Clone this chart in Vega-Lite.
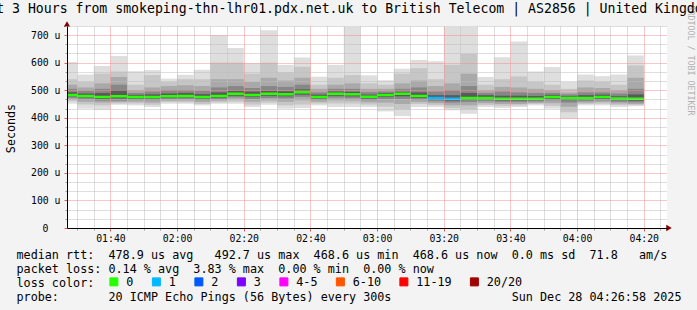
{
  "$schema": "https://vega.github.io/schema/vega-lite/v6.json",
  "width": 600,
  "height": 202,
  "autosize": {"type": "none"},
  "padding": {"left": 67, "top": 26, "right": 30, "bottom": 82},
  "background": "#f3f3f3",
  "config": {"view": {"fill": "#ffffff", "stroke": null}, "font": "DejaVu Sans Mono"},
  "title": {
    "text": "Last 3 Hours from smokeping-thn-lhr01.pdx.net.uk to British Telecom | AS2856 | United Kingdom",
    "font": "DejaVu Sans Mono", "fontSize": 13.2, "fontWeight": "normal", "color": "#000000",
    "anchor": "middle", "frame": "group", "dx": -25.5, "offset": -21.5, "baseline": "alphabetic"
  },
  "data": {"values": [
    {"t":"2025-12-28T01:25:00","t2":"2025-12-28T01:30:00","lo":451,"p10":460,"p20":466,"p30":472,"p40":478,"med":483,"p60":493,"p70":505,"p80":520,"p90":540,"hi":602,"loss":"0"},
    {"t":"2025-12-28T01:30:00","t2":"2025-12-28T01:35:00","lo":433,"p10":448,"p20":458,"p30":467,"p40":474,"med":479,"p60":488,"p70":498,"p80":510,"p90":530,"hi":557,"loss":"0"},
    {"t":"2025-12-28T01:35:00","t2":"2025-12-28T01:40:00","lo":429,"p10":445,"p20":455,"p30":462,"p40":468,"med":475,"p60":490,"p70":505,"p80":525,"p90":560,"hi":588,"loss":"0"},
    {"t":"2025-12-28T01:40:00","t2":"2025-12-28T01:45:00","lo":447,"p10":452,"p20":457,"p30":462,"p40":470,"med":478,"p60":500,"p70":520,"p80":548,"p90":568,"hi":624,"loss":"0"},
    {"t":"2025-12-28T01:45:00","t2":"2025-12-28T01:50:00","lo":445,"p10":452,"p20":458,"p30":465,"p40":470,"med":475,"p60":483,"p70":490,"p80":500,"p90":520,"hi":569,"loss":"0"},
    {"t":"2025-12-28T01:50:00","t2":"2025-12-28T01:55:00","lo":439,"p10":447,"p20":455,"p30":464,"p40":470,"med":475,"p60":485,"p70":495,"p80":510,"p90":555,"hi":573,"loss":"0"},
    {"t":"2025-12-28T01:55:00","t2":"2025-12-28T02:00:00","lo":451,"p10":457,"p20":462,"p30":467,"p40":472,"med":478,"p60":488,"p70":500,"p80":515,"p90":530,"hi":542,"loss":"0"},
    {"t":"2025-12-28T02:00:00","t2":"2025-12-28T02:05:00","lo":451,"p10":456,"p20":462,"p30":468,"p40":474,"med":479,"p60":490,"p70":500,"p80":518,"p90":540,"hi":556,"loss":"0"},
    {"t":"2025-12-28T02:05:00","t2":"2025-12-28T02:10:00","lo":445,"p10":450,"p20":457,"p30":464,"p40":470,"med":475,"p60":486,"p70":498,"p80":515,"p90":540,"hi":574,"loss":"0"},
    {"t":"2025-12-28T02:10:00","t2":"2025-12-28T02:15:00","lo":451,"p10":456,"p20":462,"p30":467,"p40":473,"med":479,"p60":492,"p70":510,"p80":540,"p90":600,"hi":699,"loss":"0"},
    {"t":"2025-12-28T02:15:00","t2":"2025-12-28T02:20:00","lo":451,"p10":458,"p20":467,"p30":474,"p40":480,"med":487,"p60":498,"p70":515,"p80":540,"p90":600,"hi":653,"loss":"0"},
    {"t":"2025-12-28T02:20:00","t2":"2025-12-28T02:25:00","lo":439,"p10":448,"p20":458,"p30":468,"p40":476,"med":483,"p60":495,"p70":508,"p80":530,"p90":560,"hi":598,"loss":"0"},
    {"t":"2025-12-28T02:25:00","t2":"2025-12-28T02:30:00","lo":447,"p10":455,"p20":463,"p30":472,"p40":480,"med":487,"p60":498,"p70":515,"p80":545,"p90":600,"hi":718,"loss":"0"},
    {"t":"2025-12-28T02:30:00","t2":"2025-12-28T02:35:00","lo":433,"p10":445,"p20":458,"p30":470,"p40":478,"med":485,"p60":496,"p70":512,"p80":535,"p90":565,"hi":592,"loss":"0"},
    {"t":"2025-12-28T02:35:00","t2":"2025-12-28T02:40:00","lo":435,"p10":448,"p20":463,"p30":476,"p40":484,"med":492.7,"p60":503,"p70":520,"p80":545,"p90":585,"hi":619,"loss":"0"},
    {"t":"2025-12-28T02:40:00","t2":"2025-12-28T02:45:00","lo":445,"p10":452,"p20":458,"p30":465,"p40":470,"med":475,"p60":484,"p70":492,"p80":505,"p90":520,"hi":549,"loss":"0"},
    {"t":"2025-12-28T02:45:00","t2":"2025-12-28T02:50:00","lo":439,"p10":452,"p20":463,"p30":473,"p40":480,"med":487,"p60":495,"p70":505,"p80":520,"p90":545,"hi":592,"loss":"0"},
    {"t":"2025-12-28T02:50:00","t2":"2025-12-28T02:55:00","lo":439,"p10":452,"p20":462,"p30":471,"p40":478,"med":485,"p60":494,"p70":505,"p80":525,"p90":555,"hi":729,"loss":"0"},
    {"t":"2025-12-28T02:55:00","t2":"2025-12-28T03:00:00","lo":439,"p10":448,"p20":456,"p30":464,"p40":470,"med":476,"p60":484,"p70":493,"p80":505,"p90":525,"hi":554,"loss":"0"},
    {"t":"2025-12-28T03:00:00","t2":"2025-12-28T03:05:00","lo":423,"p10":440,"p20":455,"p30":468,"p40":476,"med":483,"p60":490,"p70":495,"p80":505,"p90":520,"hi":536,"loss":"0"},
    {"t":"2025-12-28T03:05:00","t2":"2025-12-28T03:10:00","lo":406,"p10":430,"p20":450,"p30":468,"p40":478,"med":487,"p60":494,"p70":505,"p80":525,"p90":560,"hi":578,"loss":"0"},
    {"t":"2025-12-28T03:10:00","t2":"2025-12-28T03:15:00","lo":439,"p10":450,"p20":457,"p30":465,"p40":472,"med":479,"p60":492,"p70":510,"p80":535,"p90":580,"hi":610,"loss":"0"},
    {"t":"2025-12-28T03:15:00","t2":"2025-12-28T03:20:00","lo":439,"p10":446,"p20":453,"p30":460,"p40":466,"med":472,"p60":482,"p70":495,"p80":515,"p90":540,"hi":605,"loss":"1"},
    {"t":"2025-12-28T03:20:00","t2":"2025-12-28T03:25:00","lo":427,"p10":435,"p20":445,"p30":455,"p40":462,"med":469,"p60":482,"p70":500,"p80":525,"p90":592,"hi":729,"loss":"1"},
    {"t":"2025-12-28T03:25:00","t2":"2025-12-28T03:30:00","lo":415,"p10":430,"p20":445,"p30":457,"p40":465,"med":472,"p60":490,"p70":515,"p80":560,"p90":632,"hi":729,"loss":"0"},
    {"t":"2025-12-28T03:30:00","t2":"2025-12-28T03:35:00","lo":439,"p10":446,"p20":453,"p30":460,"p40":466,"med":472,"p60":482,"p70":490,"p80":500,"p90":520,"hi":548,"loss":"0"},
    {"t":"2025-12-28T03:35:00","t2":"2025-12-28T03:40:00","lo":435,"p10":443,"p20":450,"p30":457,"p40":463,"med":469,"p60":480,"p70":495,"p80":512,"p90":540,"hi":620,"loss":"0"},
    {"t":"2025-12-28T03:40:00","t2":"2025-12-28T03:45:00","lo":439,"p10":445,"p20":450,"p30":457,"p40":463,"med":469,"p60":480,"p70":492,"p80":510,"p90":550,"hi":677,"loss":"0"},
    {"t":"2025-12-28T03:45:00","t2":"2025-12-28T03:50:00","lo":445,"p10":450,"p20":454,"p30":459,"p40":464,"med":469,"p60":479,"p70":490,"p80":505,"p90":530,"hi":568,"loss":"0"},
    {"t":"2025-12-28T03:50:00","t2":"2025-12-28T03:55:00","lo":433,"p10":443,"p20":453,"p30":463,"p40":469,"med":475,"p60":483,"p70":490,"p80":500,"p90":520,"hi":584,"loss":"0"},
    {"t":"2025-12-28T03:55:00","t2":"2025-12-28T04:00:00","lo":396,"p10":420,"p20":440,"p30":455,"p40":464,"med":472,"p60":478,"p70":485,"p80":492,"p90":505,"hi":530,"loss":"0"},
    {"t":"2025-12-28T04:00:00","t2":"2025-12-28T04:05:00","lo":445,"p10":450,"p20":455,"p30":460,"p40":466,"med":472,"p60":482,"p70":492,"p80":510,"p90":535,"hi":557,"loss":"0"},
    {"t":"2025-12-28T04:05:00","t2":"2025-12-28T04:10:00","lo":445,"p10":451,"p20":457,"p30":463,"p40":469,"med":475,"p60":484,"p70":492,"p80":508,"p90":530,"hi":551,"loss":"0"},
    {"t":"2025-12-28T04:10:00","t2":"2025-12-28T04:15:00","lo":439,"p10":446,"p20":452,"p30":458,"p40":464,"med":470,"p60":478,"p70":488,"p80":500,"p90":520,"hi":557,"loss":"0"},
    {"t":"2025-12-28T04:15:00","t2":"2025-12-28T04:20:00","lo":442,"p10":446,"p20":450,"p30":456,"p40":462,"med":468.6,"p60":485,"p70":505,"p80":545,"p90":590,"hi":626,"loss":"0"}
  ]},
  "resolve": {"axis": {"x": "independent", "y": "independent"}},
  "layer": [
    {
      "mark": {"type": "bar", "color": "#dedede", "clip": true},
      "encoding": {
        "x": {"field": "t", "type": "temporal",
          "scale": {"domain": [{"year":2025,"month":12,"date":28,"hours":1,"minutes":26,"seconds":58}, {"year":2025,"month":12,"date":28,"hours":4,"minutes":26,"seconds":58}], "nice": false},
          "axis": {"orient": "bottom", "values": [
            {"year":2025,"month":12,"date":28,"hours":1,"minutes":30},{"year":2025,"month":12,"date":28,"hours":1,"minutes":35},{"year":2025,"month":12,"date":28,"hours":1,"minutes":45},{"year":2025,"month":12,"date":28,"hours":1,"minutes":50},{"year":2025,"month":12,"date":28,"hours":1,"minutes":55},
            {"year":2025,"month":12,"date":28,"hours":2,"minutes":5},{"year":2025,"month":12,"date":28,"hours":2,"minutes":10},{"year":2025,"month":12,"date":28,"hours":2,"minutes":15},{"year":2025,"month":12,"date":28,"hours":2,"minutes":25},{"year":2025,"month":12,"date":28,"hours":2,"minutes":30},{"year":2025,"month":12,"date":28,"hours":2,"minutes":35},{"year":2025,"month":12,"date":28,"hours":2,"minutes":45},{"year":2025,"month":12,"date":28,"hours":2,"minutes":50},{"year":2025,"month":12,"date":28,"hours":2,"minutes":55},
            {"year":2025,"month":12,"date":28,"hours":3,"minutes":5},{"year":2025,"month":12,"date":28,"hours":3,"minutes":10},{"year":2025,"month":12,"date":28,"hours":3,"minutes":15},{"year":2025,"month":12,"date":28,"hours":3,"minutes":25},{"year":2025,"month":12,"date":28,"hours":3,"minutes":30},{"year":2025,"month":12,"date":28,"hours":3,"minutes":35},{"year":2025,"month":12,"date":28,"hours":3,"minutes":45},{"year":2025,"month":12,"date":28,"hours":3,"minutes":50},{"year":2025,"month":12,"date":28,"hours":3,"minutes":55},
            {"year":2025,"month":12,"date":28,"hours":4,"minutes":5},{"year":2025,"month":12,"date":28,"hours":4,"minutes":10},{"year":2025,"month":12,"date":28,"hours":4,"minutes":15},{"year":2025,"month":12,"date":28,"hours":4,"minutes":25}],
            "labels": false, "title": null, "domain": false, "ticks": true, "tickColor": "#a0a0a0", "tickSize": 2, "grid": true, "gridColor": "#bdbdbd", "gridDash": [1, 1], "zindex": 1}},
        "x2": {"field": "t2"},
        "y": {"field": "lo", "type": "quantitative",
          "scale": {"domain": [0, 733], "nice": false, "zero": true},
          "axis": {"orient": "left", "values": [33.33, 66.67, 133.33, 166.67, 233.33, 266.67, 333.33, 366.67, 433.33, 466.67, 533.33, 566.67, 633.33, 666.67, 733], "labels": false, "title": null, "domain": false, "ticks": true, "tickColor": "#a0a0a0", "tickSize": 2, "grid": true, "gridColor": "#bdbdbd", "gridDash": [1, 1], "zindex": 1}},
        "y2": {"field": "hi"}
      }
    },
    {
      "mark": {"type": "bar", "color": "#c6c6c6", "clip": true},
      "encoding": {
        "x": {"field": "t", "type": "temporal",
          "axis": {"orient": "bottom", "values": [
            {"year":2025,"month":12,"date":28,"hours":1,"minutes":40},{"year":2025,"month":12,"date":28,"hours":2,"minutes":0},{"year":2025,"month":12,"date":28,"hours":2,"minutes":20},{"year":2025,"month":12,"date":28,"hours":2,"minutes":40},{"year":2025,"month":12,"date":28,"hours":3,"minutes":0},{"year":2025,"month":12,"date":28,"hours":3,"minutes":20},{"year":2025,"month":12,"date":28,"hours":3,"minutes":40},{"year":2025,"month":12,"date":28,"hours":4,"minutes":0},{"year":2025,"month":12,"date":28,"hours":4,"minutes":20}],
            "format": "%H:%M", "labelFont": "DejaVu Sans Mono", "labelFontSize": 9.8, "labelColor": "#000000", "labelPadding": 2, "labelFlush": false, "labelOverlap": false, "ticks": true, "tickColor": "#e06060", "tickSize": 3, "domain": true, "domainColor": "#000000", "grid": true, "gridColor": "#f09090", "gridDash": [1, 1], "zindex": 1,
            "title": ["median rtt:\u00a0\u00a0478.9 us avg\u00a0\u00a0\u00a0492.7 us max\u00a0\u00a0468.6 us min\u00a0\u00a0468.6 us now\u00a0\u00a00.0 ms sd\u00a0\u00a071.8\u00a0\u00a0\u00a0am/s", "packet loss: 0.14 % avg\u00a0\u00a03.83 % max\u00a0\u00a00.00 % min\u00a0\u00a00.00 % now", "loss color:", "probe:\u00a0\u00a0\u00a0\u00a0\u00a0\u00a0\u00a020 ICMP Echo Pings (56 Bytes) every 300s\u00a0\u00a0\u00a0\u00a0\u00a0\u00a0\u00a0\u00a0\u00a0\u00a0\u00a0\u00a0\u00a0\u00a0\u00a0\u00a0\u00a0Sun Dec 28 04:26:58 2025"],
            "titleFont": "DejaVu Sans Mono", "titleFontSize": 11.75, "titleFontWeight": "normal", "titleColor": "#000000", "titleX": -51, "titleY": 30, "titleAlign": "left", "titleAnchor": "start", "titleBaseline": "alphabetic", "titleLineHeight": 14}},
        "x2": {"field": "t2"},
        "y": {"field": "p10", "type": "quantitative",
          "axis": {"orient": "left", "values": [0, 100, 200, 300, 400, 500, 600, 700], "labelExpr": "datum.value == 0 ? '0' : datum.value + ' u'", "labelPadding": {"condition": {"test": "datum.value == 0", "value": 16}, "value": 4}, "labelFont": "DejaVu Sans Mono", "labelFontSize": 9.8, "labelColor": "#000000", "ticks": true, "tickColor": "#e06060", "tickSize": 3, "domain": true, "domainColor": "#000000", "grid": true, "gridColor": "#f09090", "gridDash": [1, 1], "zindex": 1,
            "title": "Seconds", "titleFont": "DejaVu Sans Mono", "titleFontSize": 11.7, "titleFontWeight": "normal", "titleColor": "#000000", "titleX": -57, "titleY": 102, "titleAngle": -90, "titleAlign": "center", "titleBaseline": "middle"}},
        "y2": {"field": "p90"}
      }
    },
    {
      "mark": {"type": "bar", "color": "#a9a9a9", "clip": true},
      "encoding": {
        "x": {"field": "t", "type": "temporal", "axis": null},
        "x2": {"field": "t2"},
        "y": {"field": "p20", "type": "quantitative", "axis": null},
        "y2": {"field": "p80"}
      }
    },
    {
      "mark": {"type": "bar", "color": "#878787", "clip": true},
      "encoding": {
        "x": {"field": "t", "type": "temporal", "axis": null},
        "x2": {"field": "t2"},
        "y": {"field": "p30", "type": "quantitative", "axis": null},
        "y2": {"field": "p70"}
      }
    },
    {
      "mark": {"type": "bar", "color": "#5a5a5a", "clip": true},
      "encoding": {
        "x": {"field": "t", "type": "temporal", "axis": null},
        "x2": {"field": "t2"},
        "y": {"field": "p40", "type": "quantitative", "axis": null},
        "y2": {"field": "p60"}
      }
    },
    {
      "mark": {"type": "bar", "strokeWidth": 2.5, "clip": true},
      "encoding": {
        "x": {"field": "t", "type": "temporal", "axis": null},
        "x2": {"field": "t2"},
        "y": {"field": "med", "type": "quantitative",
          "axis": {"orient": "right", "labels": false, "ticks": false, "domain": false, "grid": false, "title": "RRDTOOL / TOBI OETIKER", "titleFont": "DejaVu Sans Mono", "titleFontSize": 8.3, "titleFontWeight": "normal", "titleColor": "#b0b0b0", "titleAngle": 90, "titleX": 22, "titleY": -21, "titleAlign": "left", "titleBaseline": "middle"}},
        "y2": {"field": "med"},
        "color": {"field": "loss", "type": "nominal",
          "scale": {"domain": ["0", "1", "2", "3", "4-5", "6-10", "11-19", "20/20"], "range": ["#26ff00", "#00b8ff", "#0059ff", "#7e00ff", "#ff00ff", "#ff5500", "#ff0000", "#a10000"]},
          "legend": {"orient": "none", "legendX": 41, "legendY": 250, "direction": "horizontal", "gridAlign": "none", "title": null, "symbolType": "square", "symbolSize": 64, "symbolStrokeColor": "#000000", "symbolStrokeWidth": 1, "symbolOpacity": 1, "labelFont": "DejaVu Sans Mono", "labelFontSize": 11.75, "labelColor": "#000000", "labelOffset": 6.5, "columnPadding": 15.5, "padding": 0}},
        "stroke": {"field": "loss", "type": "nominal",
          "scale": {"domain": ["0", "1", "2", "3", "4-5", "6-10", "11-19", "20/20"], "range": ["#26ff00", "#00b8ff", "#0059ff", "#7e00ff", "#ff00ff", "#ff5500", "#ff0000", "#a10000"]},
          "legend": null}
      }
    },
    {
      "data": {"values": [{}]},
      "mark": {"type": "point", "shape": "triangle-right", "filled": true, "color": "#7f0000", "size": 40, "opacity": 1, "xOffset": 2},
      "encoding": {
        "x": {"datum": {"year":2025,"month":12,"date":28,"hours":4,"minutes":26,"seconds":58}, "type": "temporal", "axis": null},
        "y": {"datum": 0, "type": "quantitative", "axis": null}
      }
    },
    {
      "data": {"values": [{}]},
      "mark": {"type": "point", "shape": "triangle-up", "filled": true, "color": "#7f0000", "size": 40, "opacity": 1, "yOffset": -2},
      "encoding": {
        "x": {"datum": {"year":2025,"month":12,"date":28,"hours":1,"minutes":26,"seconds":58}, "type": "temporal", "axis": null},
        "y": {"datum": 733, "type": "quantitative", "axis": null}
      }
    }
  ]
}
